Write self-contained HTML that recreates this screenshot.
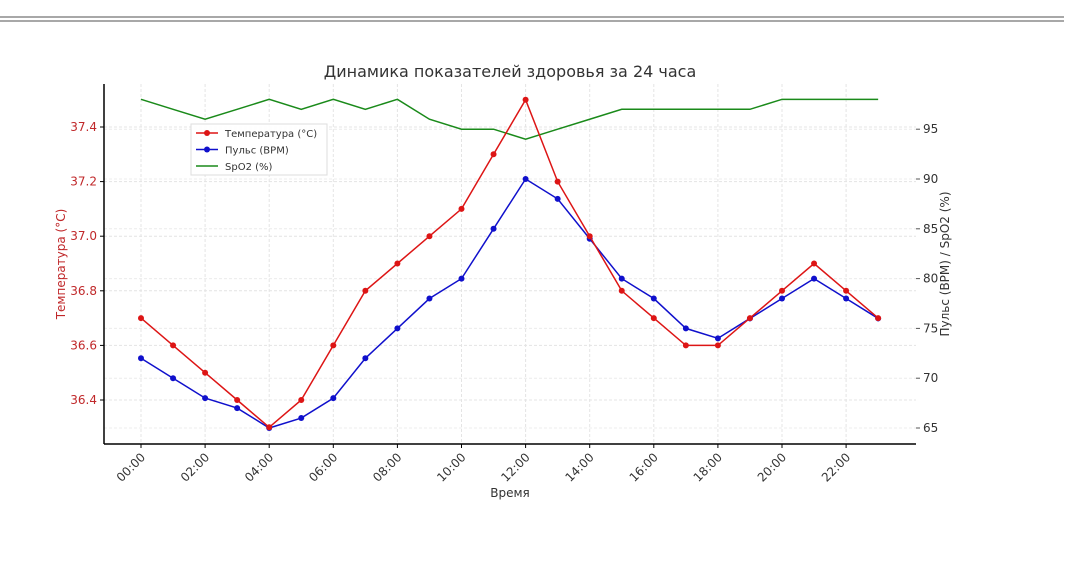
<!DOCTYPE html>
<html><head><meta charset="utf-8"><style>
body{margin:0;background:#fff;width:1080px;height:566px;overflow:hidden;font-family:"DejaVu Sans","Liberation Sans",sans-serif}
</style></head><body>
<svg id="c" width="1080" height="566" font-family="DejaVu Sans, Liberation Sans, sans-serif">
<rect x="0" y="16" width="1064" height="2" fill="#a8a8a8"/>
<rect x="0" y="20" width="1064" height="2" fill="#a8a8a8"/>
<text x="510" y="77" text-anchor="middle" font-size="16" fill="#333">Динамика показателей здоровья за 24 часа</text>
<g id="grid"></g><g id="axes"></g><g id="series"></g>
</svg>
<script>
const hours=[0,1,2,3,4,5,6,7,8,9,10,11,12,13,14,15,16,17,18,19,20,21,22,23];
const temp=[36.7,36.6,36.5,36.4,36.3,36.4,36.6,36.8,36.9,37.0,37.1,37.3,37.5,37.2,37.0,36.8,36.7,36.6,36.6,36.7,36.8,36.9,36.8,36.7];
const pulse=[72,70,68,67,65,66,68,72,75,78,80,85,90,88,84,80,78,75,74,76,78,80,78,76];
const spo2=[98,97,96,97,98,97,98,97,98,96,95,95,94,95,96,97,97,97,97,97,98,98,98,98];
const xTickLabels=["00:00","02:00","04:00","06:00","08:00","10:00","12:00","14:00","16:00","18:00","20:00","22:00"];
const leftTicks=[36.4,36.6,36.8,37.0,37.2,37.4];
const rightTicks=[65,70,75,80,85,90,95];
const NS="http://www.w3.org/2000/svg";
const L=104,R=916,T=84,B=444;
const x=h=>141+h*32.05;
const yl=v=>400-(v-36.4)/0.2*54.6;
const yr=v=>428-(v-65)/5*49.8;
function mk(tag,attrs,parent){const e=document.createElementNS(NS,tag);for(const k in attrs)e.setAttribute(k,attrs[k]);document.getElementById(parent).appendChild(e);return e;}
xTickLabels.forEach((t,i)=>{const X=x(i*2);
 const g=mk('line',{x1:X,x2:X,y1:T,y2:B,stroke:'#e4e4e4','stroke-dasharray':'3,2'},'grid');
 
 const tk=mk('line',{x1:X,x2:X,y1:B,y2:B+4,stroke:'#000'},'axes');
 
 const tx=mk('text',{x:X+5,y:B+14,'text-anchor':'end','font-size':12,fill:'#333',transform:`rotate(-45 ${X+5} ${B+14})`},'axes');
 tx.textContent=t;});
leftTicks.forEach(v=>{const Y=yl(v);
 const g=mk('line',{x1:L,x2:R,y1:Y,y2:Y,stroke:'#e4e4e4','stroke-dasharray':'3,2'},'grid');
 
 const tk=mk('line',{x1:L-4,x2:L,y1:Y,y2:Y,stroke:'#000'},'axes');
 
 const tx=mk('text',{x:L-7,y:Y+4,'text-anchor':'end','font-size':12,fill:'#c0282a'},'axes');
 tx.textContent=v.toFixed(1);});
rightTicks.forEach(v=>{const Y=yr(v);
 const g=mk('line',{x1:L,x2:R,y1:Y,y2:Y,stroke:'#ececec','stroke-dasharray':'3,2'},'grid');
 
 const tk=mk('line',{x1:R,x2:R+4,y1:Y,y2:Y,stroke:'#555'},'axes');
 
 const tx=mk('text',{x:R+7,y:Y+4,'font-size':12,fill:'#333'},'axes');
 tx.textContent=v;});
let a=mk('line',{x1:L,x2:L,y1:T,y2:B,stroke:'#000','stroke-width':1.5},'axes');
a=mk('line',{x1:L,x2:R,y1:B,y2:B,stroke:'#000','stroke-width':1.5},'axes');
let t=mk('text',{x:510,y:497,'text-anchor':'middle','font-size':12,fill:'#333'},'axes');t.textContent='Время';
t=mk('text',{x:65,y:264,'text-anchor':'middle','font-size':12,fill:'#c0282a',transform:'rotate(-90 65 264)'},'axes');t.textContent='Температура (°C)';
t=mk('text',{x:949,y:264,'text-anchor':'middle','font-size':12,fill:'#333',transform:'rotate(-90 949 264)'},'axes');t.textContent='Пульс (BPM) / SpO2 (%)';
function line(vals,yf,color,name,dots){
 const p=mk('polyline',{points:vals.map((v,i)=>x(hours[i])+','+yf(v)).join(' '),fill:'none',stroke:color,'stroke-width':1.5},'series');
 
 if(dots)vals.forEach((v,i)=>{const c=mk('circle',{cx:x(hours[i]),cy:yf(v),r:3,fill:color},'series');
  });
}
line(spo2,yr,'#1a8a1a','spo2',false);
line(pulse,yr,'#1010cc','pulse',true);
line(temp,yl,'#dd1515','temperature',true);
const lg=mk('rect',{x:191,y:124,width:136,height:51,fill:'#fff',stroke:'#ddd','fill-opacity':0.9},'series');

[['Температура (°C)','#dd1515',1],['Пульс (BPM)','#1010cc',1],['SpO2 (%)','#1a8a1a',0]].forEach((e,i)=>{
 const Y=133+i*16.5;
 const l=mk('line',{x1:196,x2:218,y1:Y,y2:Y,stroke:e[1],'stroke-width':1.5},'series');
 
 if(e[2]){const c=mk('circle',{cx:207,cy:Y,r:3,fill:e[1]},'series');}
 const tx=mk('text',{x:225,y:Y+4,'font-size':10,fill:'#333'},'series');tx.textContent=e[0];
 
});
</script>
</body></html>
